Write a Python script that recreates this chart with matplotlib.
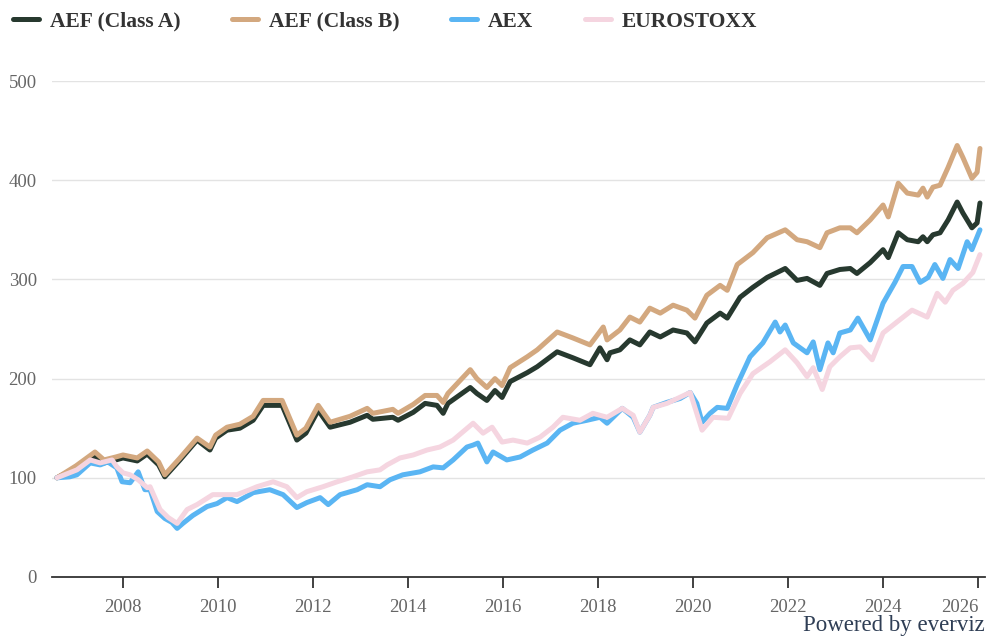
import matplotlib
matplotlib.use("Agg")
import matplotlib.pyplot as plt
import numpy as np

# values (fractional years, index value)
class_a_years = [2006.61, 2007.01, 2007.41, 2007.60, 2007.85, 2008.00, 2008.30, 2008.51, 2008.75, 2008.88,
                 2009.20, 2009.56, 2009.83, 2009.95, 2010.19, 2010.46, 2010.74, 2010.95, 2011.35, 2011.66,
                 2011.85, 2012.11, 2012.36, 2012.78, 2013.14, 2013.26, 2013.68, 2013.79, 2014.11, 2014.36,
                 2014.61, 2014.74, 2014.84, 2015.31, 2015.45, 2015.66, 2015.83, 2015.98, 2016.15, 2016.51,
                 2016.72, 2017.14, 2017.47, 2017.83, 2018.04, 2018.19, 2018.25, 2018.46, 2018.67, 2018.88,
                 2019.09, 2019.31, 2019.58, 2019.87, 2020.04, 2020.29, 2020.57, 2020.72, 2020.99, 2021.26,
                 2021.56, 2021.94, 2022.19, 2022.40, 2022.67, 2022.82, 2023.09, 2023.31, 2023.45, 2023.73,
                 2024.00, 2024.11, 2024.32, 2024.51, 2024.74, 2024.84, 2024.93, 2025.05, 2025.20, 2025.37,
                 2025.56, 2025.68, 2025.87, 2025.98, 2026.04]
class_a = [100, 110, 122, 115, 118, 120, 117, 124, 113, 101,
           118, 138, 128, 140, 148, 150, 158, 173, 173, 138,
           145, 168, 151, 156, 163, 159, 161, 158, 166, 175,
           173, 165, 175, 191, 185, 178, 188, 181, 197, 206,
           212, 227, 221, 214, 231, 219, 226, 229, 239, 234,
           247, 242, 249, 246, 237, 256, 266, 261, 282, 292,
           302, 311, 299, 301, 294, 306, 310, 311, 306, 317,
           330, 322, 347, 340, 338, 343, 338, 345, 347, 360,
           378, 367, 352, 357, 377]

class_b_years = [2006.61, 2007.01, 2007.41, 2007.60, 2007.85, 2008.00, 2008.30, 2008.51, 2008.75, 2008.88,
                 2009.20, 2009.56, 2009.83, 2009.95, 2010.19, 2010.46, 2010.74, 2010.95, 2011.35, 2011.66,
                 2011.85, 2012.11, 2012.36, 2012.78, 2013.14, 2013.26, 2013.68, 2013.79, 2014.11, 2014.36,
                 2014.61, 2014.74, 2014.84, 2015.31, 2015.45, 2015.66, 2015.83, 2015.98, 2016.15, 2016.51,
                 2016.72, 2017.14, 2017.47, 2017.83, 2018.11, 2018.19, 2018.46, 2018.67, 2018.88, 2019.09,
                 2019.31, 2019.58, 2019.87, 2020.04, 2020.29, 2020.57, 2020.72, 2020.93, 2021.26, 2021.56,
                 2021.94, 2022.19, 2022.40, 2022.67, 2022.82, 2023.09, 2023.31, 2023.45, 2023.73, 2024.00,
                 2024.11, 2024.32, 2024.51, 2024.74, 2024.84, 2024.93, 2025.05, 2025.20, 2025.37, 2025.56,
                 2025.68, 2025.87, 2025.98, 2026.04]
class_b = [100, 112, 126, 118, 121, 123, 120, 127, 116, 103,
           120, 140, 131, 143, 151, 154, 162, 178, 178, 143,
           150, 173, 156, 162, 170, 165, 169, 165, 174, 183,
           183, 176, 185, 209, 200, 191, 200, 193, 211, 222,
           229, 247, 241, 234, 252, 239, 249, 262, 257, 271,
           266, 274, 269, 261, 284, 294, 289, 315, 327, 342,
           350, 340, 338, 332, 347, 352, 352, 347, 360, 375,
           363, 397, 387, 385, 392, 383, 393, 395, 413, 435,
           423, 402, 408, 432]

aex_years = [2006.61, 2006.88, 2007.03, 2007.31, 2007.52, 2007.68, 2007.87, 2007.98, 2008.15, 2008.32,
             2008.46, 2008.57, 2008.72, 2008.88, 2009.03, 2009.14, 2009.26, 2009.47, 2009.77, 2009.98,
             2010.19, 2010.40, 2010.67, 2010.74, 2011.09, 2011.37, 2011.66, 2011.87, 2012.15, 2012.32,
             2012.57, 2012.93, 2013.14, 2013.41, 2013.62, 2013.89, 2014.25, 2014.53, 2014.74, 2014.95,
             2015.24, 2015.37, 2015.47, 2015.66, 2015.79, 2016.08, 2016.36, 2016.63, 2016.93, 2017.20,
             2017.47, 2017.77, 2018.04, 2018.19, 2018.51, 2018.74, 2018.88, 2019.09, 2019.16, 2019.45,
             2019.73, 2019.94, 2020.08, 2020.19, 2020.36, 2020.51, 2020.72, 2020.93, 2021.20, 2021.47,
             2021.73, 2021.83, 2021.94, 2022.11, 2022.40, 2022.53, 2022.67, 2022.84, 2022.95, 2023.09,
             2023.31, 2023.47, 2023.73, 2024.00, 2024.25, 2024.42, 2024.61, 2024.78, 2024.95, 2025.09,
             2025.26, 2025.41, 2025.58, 2025.77, 2025.87, 2026.04]
aex = [100, 101, 103, 115, 113, 116, 110, 96, 95, 106,
       88, 88, 66, 59, 55, 49, 54, 62, 71, 74,
       80, 76, 83, 85, 88, 83, 70, 75, 80, 73,
       83, 88, 93, 91, 98, 103, 106, 111, 110, 118,
       131, 133, 135, 116, 126, 118, 121, 128, 135, 148,
       155, 158, 161, 155, 170, 161, 146, 163, 171, 176,
       180, 186, 175, 156, 165, 171, 170, 194, 222, 236,
       257, 247, 254, 236, 226, 237, 209, 236, 226, 246,
       249, 261, 239, 276, 297, 313, 313, 297, 302, 315,
       301, 320, 311, 338, 330, 350]

euro_years = [2006.61, 2007.03, 2007.31, 2007.52, 2007.77, 2007.87, 2008.00, 2008.15, 2008.32, 2008.51,
              2008.57, 2008.78, 2008.95, 2009.14, 2009.35, 2009.56, 2009.89, 2010.19, 2010.40, 2010.67,
              2010.82, 2011.16, 2011.45, 2011.66, 2011.87, 2012.21, 2012.51, 2012.84, 2013.14, 2013.41,
              2013.56, 2013.83, 2014.11, 2014.40, 2014.67, 2014.95, 2015.37, 2015.58, 2015.77, 2015.98,
              2016.21, 2016.51, 2016.78, 2017.05, 2017.26, 2017.62, 2017.89, 2018.19, 2018.51, 2018.74,
              2018.88, 2019.09, 2019.16, 2019.45, 2019.94, 2020.19, 2020.42, 2020.74, 2020.99, 2021.26,
              2021.62, 2021.94, 2022.19, 2022.40, 2022.53, 2022.72, 2022.88, 2023.09, 2023.31, 2023.52,
              2023.77, 2024.00, 2024.29, 2024.61, 2024.93, 2025.14, 2025.31, 2025.47, 2025.68, 2025.89,
              2026.04]
euro = [100, 108, 118, 115, 118, 111, 105, 103, 98, 90,
        91, 68, 60, 54, 68, 73, 83, 83, 83, 88,
        91, 96, 91, 80, 86, 91, 96, 101, 106, 108,
        113, 120, 123, 128, 131, 138, 155, 145, 151, 136,
        138, 135, 141, 151, 161, 158, 165, 161, 170, 163,
        146, 163, 171, 175, 186, 148, 161, 160, 185, 205,
        217, 229, 216, 202, 211, 189, 212, 222, 231, 232,
        219, 246, 257, 269, 262, 286, 277, 289, 296, 307,
        325]

series_names = ["AEF (Class A)", "AEF (Class B)", "AEX", "EUROSTOXX"]
series_colors = ["#27392f", "#d3a87f", "#5ab5f3", "#f5d5e0"]

plt.rcParams['font.family'] = ['Liberation Serif', 'DejaVu Serif']

fig = plt.figure(figsize=(9.9, 6.36), dpi=100)
ax = fig.add_axes([0.0525, 0.0928, 0.9425, 0.7798])

data = [(class_a_years, class_a), (class_b_years, class_b), (aex_years, aex), (euro_years, euro)]
for (xs, ys), name, col in zip(data, series_names, series_colors):
    ax.plot(xs, ys, color=col, lw=3.6, label=name, solid_joinstyle='round', solid_capstyle='round')

ax.set_xlim(2006.505, 2026.147)
ax.set_ylim(0, 500)
ax.set_yticks([0, 100, 200, 300, 400, 500])
ax.set_xticks(np.arange(2008, 2027, 2))
ax.grid(axis='y', color='#e3e3e3', lw=1)
ax.set_axisbelow(True)
for s in ['top', 'right', 'left']:
    ax.spines[s].set_visible(False)
ax.spines['bottom'].set_color('#333333')
ax.spines['bottom'].set_linewidth(1.3)
ax.tick_params(axis='y', length=0, pad=11, labelsize=13.5, labelcolor='#666666')
ax.tick_params(axis='x', length=8, width=1.3, color='#333333', pad=8, labelsize=13.5, labelcolor='#666666')
# last year label is pulled inside the chart like in the original
ax.get_xticklabels()[-1].set_horizontalalignment('right')

leg = fig.legend(loc='upper left', bbox_to_anchor=(-0.006, 1.012), ncol=4, frameon=False,
                 handlelength=1.2, handletextpad=0.5, columnspacing=2.4,
                 prop={'weight': 'bold', 'size': 15.5})
for t in leg.get_texts():
    t.set_color('#333333')

fig.text(0.995, 0.0, "Powered by everviz", ha='right', va='bottom', fontsize=16.5, color='#2f3e55')

fig.savefig("out.png", dpi=100)
